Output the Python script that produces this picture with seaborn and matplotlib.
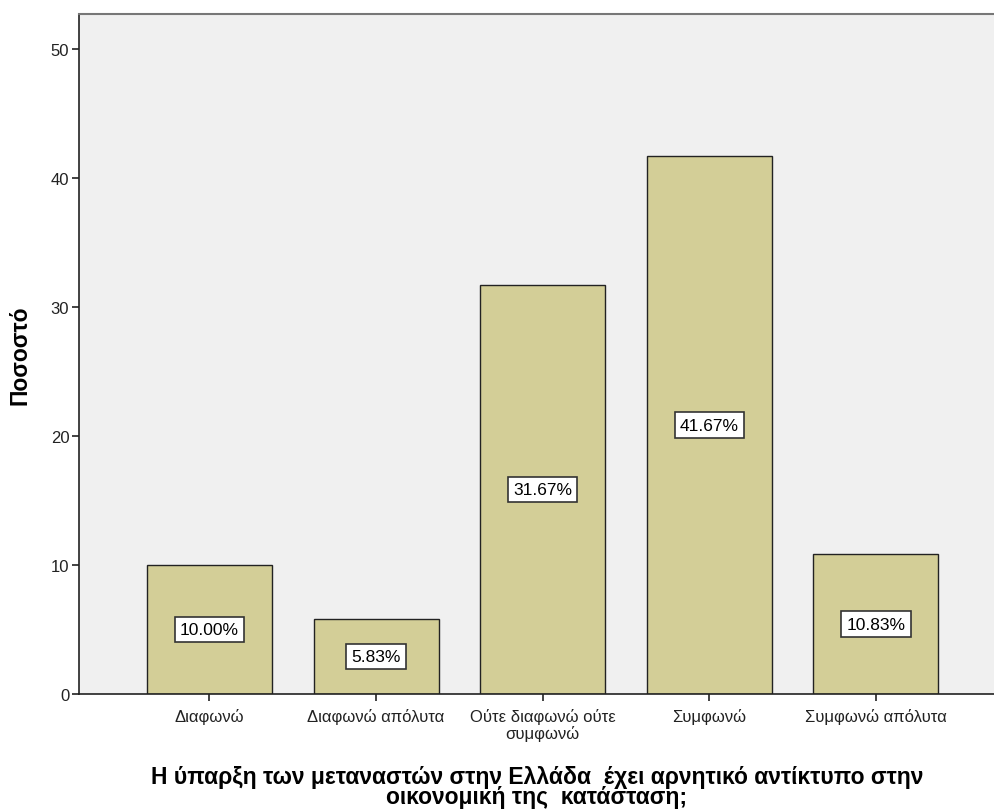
import matplotlib
matplotlib.use("Agg")
import matplotlib.pyplot as plt
import seaborn as sns
import pandas as pd

categories = ["Διαφωνώ", "Διαφωνώ απόλυτα", "Ούτε διαφωνώ ούτε\nσυμφωνώ", "Συμφωνώ", "Συμφωνώ απόλυτα"]
percent = [10.00, 5.83, 31.67, 41.67, 10.83]
y_ticks = [0, 10, 20, 30, 40, 50]
x_title = "Η ύπαρξη των μεταναστών στην Ελλάδα  έχει αρνητικό αντίκτυπο στην\nοικονομική της  κατάσταση;"
y_title = "Ποσοστό"

sns.set_style("white")
plt.rcParams["font.family"] = ["Liberation Sans", "DejaVu Sans"]

df = pd.DataFrame({"cat": categories, "pct": percent})

fig = plt.figure(figsize=(9.95, 8.12), dpi=100)
ax = fig.add_axes([79 / 995, 117 / 812, 1 - 79 / 995, (695 - 15) / 812])
ax.set_facecolor("#f0f0f0")

sns.barplot(data=df, x="cat", y="pct", color="#d3ce97", saturation=1,
            width=0.75, edgecolor="#222222", linewidth=1.0, ax=ax)

# percentage labels centred in each bar
for i, v in enumerate(percent):
    ax.text(i, v / 2, f"{v:.2f}%", ha="center", va="center", fontsize=12.5,
            color="black",
            bbox=dict(boxstyle="square,pad=0.3", fc="white", ec="#333333", lw=1.2))

ax.set_xlim(-0.783, 4.715)
ax.set_ylim(0, 52.7)
ax.set_yticks(y_ticks)
ax.set_yticklabels([str(t) for t in y_ticks], fontsize=12, color="#222222")
ax.tick_params(axis="both", direction="out", length=5, width=1.2, color="#222222",
               left=True, bottom=True)
ax.tick_params(axis="y", pad=2)
ax.tick_params(axis="x", labelcolor="#222222", pad=5)
ax.set_xticks(range(len(categories)))
ax.set_xticklabels(categories, fontsize=12, linespacing=1.1)

for side in ["left", "bottom"]:
    ax.spines[side].set_color("#222222")
    ax.spines[side].set_linewidth(1.2)
ax.spines["top"].set_color("#777777")
ax.spines["top"].set_linewidth(1.5)
ax.spines["right"].set_visible(False)

ax.set_xlabel(x_title, fontsize=16.5, fontweight="bold", labelpad=17, linespacing=0.85,
              color="black")
ax.set_ylabel(y_title, fontsize=16.5, fontweight="bold", labelpad=14, color="black")

fig.savefig("out.png", dpi=100, facecolor="white")
